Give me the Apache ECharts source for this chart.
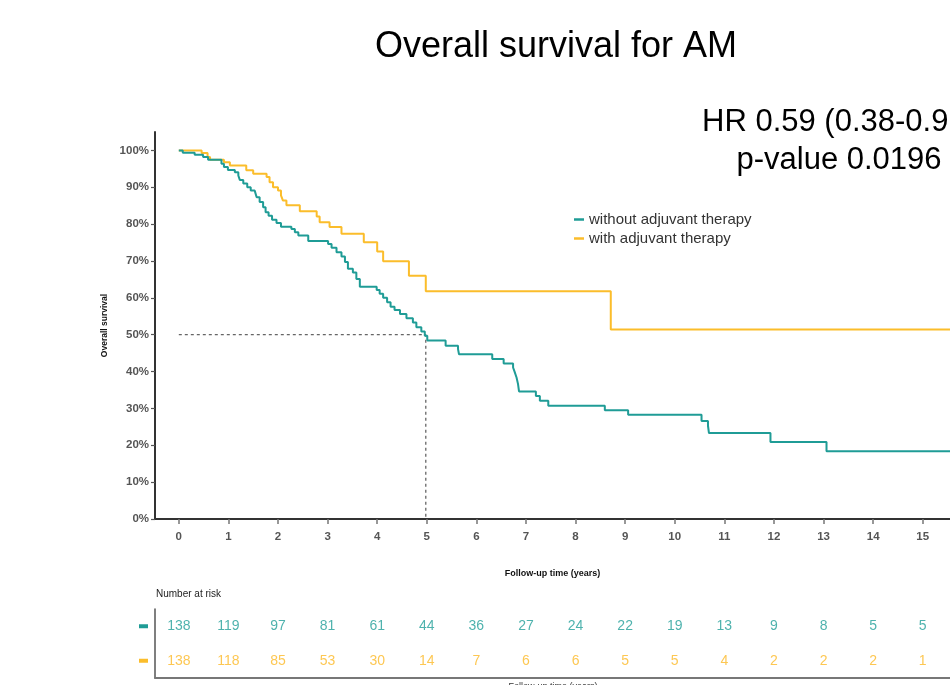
<!DOCTYPE html>
<html>
<head>
<meta charset="utf-8">
<script src="https://cdn.jsdelivr.net/npm/echarts@6/dist/echarts.min.js"></script>
<style>html,body{margin:0;padding:0;background:#fff}#c{width:950px;height:685px}</style>
</head>
<body>
<div id="c"></div>
<script>
// ---- data ----
const seriesNames = ['without adjuvant therapy', 'with adjuvant therapy'];
const xTicks = [0,1,2,3,4,5,6,7,8,9,10,11,12,13,14,15];
const yTicks = [0,10,20,30,40,50,60,70,80,90,100];

const timesWithout = [0,0.08,0.32,0.49,0.59,0.86,0.91,0.99,1.13,1.20,1.23,1.30,1.38,1.45,1.53,1.57,1.63,1.70,1.75,1.81,1.88,1.97,2.06,2.27,2.34,2.41,2.61,3.01,3.08,3.18,3.28,3.35,3.41,3.51,3.58,3.65,3.99,4.05,4.12,4.20,4.27,4.35,4.46,4.59,4.72,4.79,4.89,4.96,5.01,5.38,5.63,5.65,6.32,6.55,6.74,6.77,6.81,6.84,6.86,7.20,7.28,7.45,8.59,9.06,10.54,10.67,10.69,11.93,13.06,15.6];
const survWithout  = [100,99.4,98.8,98.2,97.5,96.4,95.5,94.7,94.1,93.2,92.0,91.0,90.0,89.1,88.7,87.3,86.0,84.6,83.2,82.3,81.2,80.3,79.3,78.7,77.8,76.9,75.4,74.6,73.6,72.4,71.2,69.7,67.9,66.9,65.1,63.0,62.1,61.1,60.0,58.8,57.6,56.7,55.6,54.5,53.3,52.0,50.9,49.7,48.4,47.0,46.1,44.7,43.4,42.2,41.1,40.0,38.4,36.6,34.6,33.4,32.1,30.7,29.5,28.3,26.6,25.3,23.3,20.9,18.4,18.4];

const timesWith = [0,0.46,0.58,0.63,0.91,1.03,1.36,1.50,1.77,1.83,1.90,2.00,2.06,2.10,2.17,2.44,2.78,2.84,3.04,3.28,3.73,4.00,4.12,4.64,4.98,8.71,15.6];
const survWith  = [100,99.3,98.2,97.5,96.8,95.9,94.6,93.7,92.8,91.4,90.0,89.1,87.8,86.4,85.1,83.5,82.1,80.5,79.2,77.4,75.1,72.6,69.9,66.0,61.8,51.4,51.4];

const medianTime = 4.98;
const medianSurv = 50;

const riskTimes   = [0,1,2,3,4,5,6,7,8,9,10,11,12,13,14,15];
const riskWithout = [138,119,97,81,61,44,36,27,24,22,19,13,9,8,5,5];
const riskWith    = [138,118,85,53,30,14,7,6,6,5,5,4,2,2,2,1];

const hrText = 'HR 0.59 (0.38-0.92)';
const pText = 'p-value 0.0196';

// ---- styling ----
const TEAL = '#1f9c96';
const YELLOW = '#fbbd2b';
const TEAL_TXT = '#229f99';
const YELLOW_TXT = '#fcb927';
const SANS = "'Liberation Sans', Arial, sans-serif";
const XMIN = -0.48, XMAX = 15.55;

const zip = (a, b) => a.map((v, i) => [v, b[i]]);

const chart = echarts.init(document.getElementById('c'), null, {renderer: 'canvas'});
chart.setOption({
  animation: false,
  backgroundColor: '#fff',
  textStyle: {fontFamily: SANS},
  grid: [
    {left: 155, right: 0, top: 132, height: 387, containLabel: false},
    {left: 155, right: 0, top: 609, height: 69, containLabel: false}
  ],
  legend: {
    data: seriesNames,
    orient: 'vertical',
    left: 569, top: 207,
    icon: 'rect', itemWidth: 10, itemHeight: 2.5, itemGap: 4,
    textStyle: {fontFamily: SANS, fontSize: 15, color: '#333'},
    selectedMode: false
  },
  xAxis: [
    {
      gridIndex: 0, type: 'value', min: XMIN, max: XMAX,
      name: 'Follow-up time (years)', nameLocation: 'middle', nameGap: 50,
      nameTextStyle: {fontFamily: SANS, fontWeight: 'bold', fontSize: 9, color: '#111'},
      axisLine: {show: true, onZero: false, lineStyle: {color: '#333', width: 2}},
      axisTick: {show: true, length: 5, customValues: xTicks, lineStyle: {color: '#777', width: 1.5}},
      axisLabel: {show: true, customValues: xTicks, margin: 12, fontFamily: SANS, fontWeight: 'bold', fontSize: 11.5, color: '#555'},
      splitLine: {show: false}
    },
    {
      gridIndex: 1, type: 'value', min: XMIN, max: XMAX,
      axisLine: {show: true, onZero: false, lineStyle: {color: '#777', width: 2}},
      axisTick: {show: false}, axisLabel: {show: false}, splitLine: {show: false}
    }
  ],
  yAxis: [
    {
      gridIndex: 0, type: 'value', min: 0, max: 105,
      name: 'Overall survival', nameLocation: 'middle', nameGap: 40, nameRotate: 90,
      nameTextStyle: {fontFamily: SANS, fontWeight: 'bold', fontSize: 8.5, color: '#111'},
      axisLine: {show: true, onZero: false, lineStyle: {color: '#333', width: 2}},
      axisTick: {show: true, length: 4, customValues: yTicks, lineStyle: {color: '#555', width: 1.2}},
      axisLabel: {show: true, customValues: yTicks, margin: 6, formatter: v => v + '%', fontFamily: SANS, fontWeight: 'bold', fontSize: 11.5, color: '#555'},
      splitLine: {show: false}
    },
    {
      gridIndex: 1, type: 'category', data: ['without', 'with'], inverse: true,
      axisLine: {show: true, onZero: false, lineStyle: {color: '#555', width: 1.5}},
      axisTick: {show: false},
      axisLabel: {
        show: true, margin: 7,
        formatter: v => v === 'without' ? '{t|}' : '{y|}',
        rich: {
          t: {width: 9, height: 4, backgroundColor: TEAL},
          y: {width: 9, height: 4, backgroundColor: YELLOW}
        }
      },
      splitLine: {show: false}
    }
  ],
  series: [
    {
      name: seriesNames[0], type: 'line', xAxisIndex: 0, yAxisIndex: 0,
      step: 'end', showSymbol: false, symbol: 'none', silent: true,
      lineStyle: {color: TEAL, width: 2}, itemStyle: {color: TEAL},
      data: zip(timesWithout, survWithout), z: 3
    },
    {
      name: seriesNames[1], type: 'line', xAxisIndex: 0, yAxisIndex: 0,
      step: 'end', showSymbol: false, symbol: 'none', silent: true,
      lineStyle: {color: YELLOW, width: 2}, itemStyle: {color: YELLOW},
      data: zip(timesWith, survWith), z: 2
    },
    {
      name: 'median', type: 'line', xAxisIndex: 0, yAxisIndex: 0,
      showSymbol: false, symbol: 'none', silent: true,
      lineStyle: {color: '#666', width: 1.3, type: [3, 3]},
      data: [[0, medianSurv], [medianTime, medianSurv], [medianTime, 0]], z: 1
    },
    {
      name: 'risk-without', type: 'scatter', xAxisIndex: 1, yAxisIndex: 1,
      symbolSize: 0, silent: true,
      label: {show: true, position: 'inside', formatter: p => String(p.value[2]), fontFamily: SANS, fontSize: 14, color: TEAL_TXT},
      data: riskTimes.map((t, i) => [t, 'without', riskWithout[i]])
    },
    {
      name: 'risk-with', type: 'scatter', xAxisIndex: 1, yAxisIndex: 1,
      symbolSize: 0, silent: true,
      label: {show: true, position: 'inside', formatter: p => String(p.value[2]), fontFamily: SANS, fontSize: 14, color: YELLOW_TXT},
      data: riskTimes.map((t, i) => [t, 'with', riskWith[i]])
    }
  ],
  graphic: [
    {type: 'text', style: {text: 'Overall survival for AM', x: 556, y: 47, align: 'center', verticalAlign: 'middle', font: '36px ' + SANS, fill: '#000'}},
    {type: 'text', style: {text: hrText, x: 839, y: 122, align: 'center', verticalAlign: 'middle', font: '31px ' + SANS, fill: '#000'}},
    {type: 'text', style: {text: pText, x: 839, y: 160, align: 'center', verticalAlign: 'middle', font: '31px ' + SANS, fill: '#000'}},
    {type: 'text', style: {text: 'Number at risk', x: 156, y: 594, align: 'left', verticalAlign: 'middle', font: '10px ' + SANS, fill: '#222'}},
    {type: 'text', style: {text: 'Follow-up time (years)', x: 553, y: 682, align: 'center', verticalAlign: 'top', font: '9px ' + SANS, fill: '#333'}}
  ]
});
</script>
</body>
</html>
